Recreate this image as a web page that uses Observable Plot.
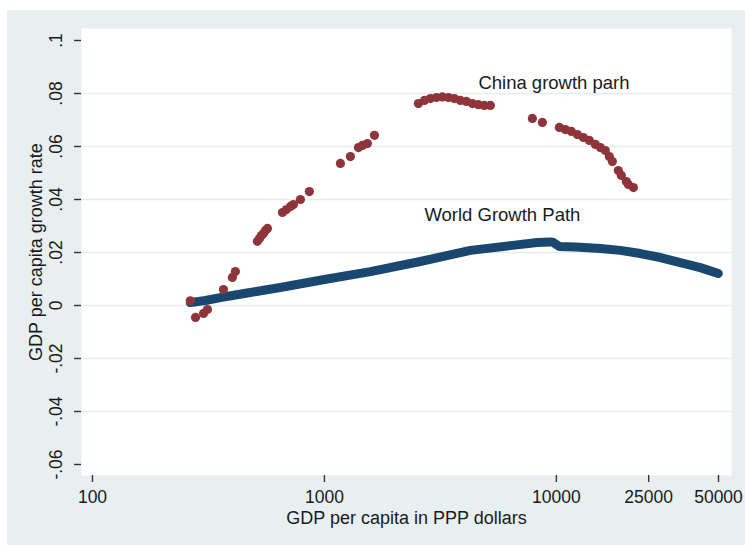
<!DOCTYPE html>
<html>
<head>
<meta charset="utf-8">
<script src="https://cdn.jsdelivr.net/npm/d3@7"></script>
<script src="https://cdn.jsdelivr.net/npm/@observablehq/plot@0.6"></script>
<style>
  html, body { margin: 0; padding: 0; background: #ffffff; }
  #wrap { position: relative; width: 745px; height: 545px; overflow: hidden; }
  #bg { position: absolute; left: 7px; top: 10px; right: 0; bottom: 0; background: #e8eff1; }
  #chart { position: absolute; left: 0; top: 0; }
</style>
</head>
<body>
<div id="wrap"><div id="bg"></div><div id="chart"></div></div>
<script>
// China growth path: GDP per capita (PPP $) and growth rate
const chinaGdp = [264, 278, 301, 313, 367, 401, 413,
  514, 525, 535, 546, 557, 568,
  659, 686, 714, 735, 788, 861,
  1172, 1294, 1402, 1458, 1532, 1643,
  2542, 2698, 2863, 3040, 3225, 3424, 3634, 3857, 4093, 4345, 4611, 4894, 5194,
  7880, 8703,
  10300, 10930, 11610, 12320, 13080, 13880, 14730, 15480, 16260, 16920, 17440, 18500, 19060, 20030, 20430, 21480];
const chinaGrowth = [0.0018, -0.0045, -0.003, -0.0015, 0.006, 0.0106, 0.0128,
  0.0242, 0.0253, 0.0264, 0.0272, 0.0283, 0.0291,
  0.0351, 0.0362, 0.0374, 0.0381, 0.040, 0.043,
  0.0536, 0.0562, 0.0596, 0.0604, 0.0611, 0.0642,
  0.0762, 0.0774, 0.0781, 0.0785, 0.0787, 0.0785, 0.0781, 0.0774, 0.077, 0.0762, 0.0758, 0.0755, 0.0755,
  0.0706, 0.0691,
  0.0672, 0.0664, 0.0657, 0.0645, 0.0634, 0.0623, 0.0608, 0.0596, 0.0585, 0.0562, 0.0543, 0.0509, 0.0491, 0.0468, 0.0457, 0.0445];

// World growth path
const worldGdp = [264, 307, 356, 479, 645, 1000, 1578, 2588, 4259, 6333, 8280, 9420, 9700, 10300, 12110, 15480, 18870, 23020, 28070, 34220, 41750, 49900];
const worldGrowth = [0.0011, 0.0019, 0.003, 0.0049, 0.0068, 0.0098, 0.0128, 0.0166, 0.0208, 0.0226, 0.0238, 0.024, 0.0238, 0.0223, 0.0221, 0.0215, 0.0208, 0.0196, 0.0181, 0.0162, 0.0143, 0.0121];

// Axis ticks
const xTicks = [100, 1000, 10000, 25000, 50000];
const xTickLabels = ["100", "1000", "10000", "25000", "50000"];
const yTicks = [-0.06, -0.04, -0.02, 0, 0.02, 0.04, 0.06, 0.08, 0.1];
const yTickLabels = ["-.06", "-.04", "-.02", "0", ".02", ".04", ".06", ".08", ".1"];
const yGrid = [-0.04, -0.02, 0, 0.02, 0.04, 0.06, 0.08];

// Annotations
const labelText = ["China growth parh", "World Growth Path"];
const labelGdp = [4611, 2698];
const labelGrowth = [0.0838, 0.034];

const xTitle = "GDP per capita in PPP dollars";
const yTitle = "GDP per capita growth rate";

const china = chinaGdp.map((g, i) => ({gdp: g, growth: chinaGrowth[i]}));
const world = worldGdp.map((g, i) => ({gdp: g, growth: worldGrowth[i]}));
const labels = labelText.map((t, i) => ({text: t, gdp: labelGdp[i], growth: labelGrowth[i]}));
const xTickData = xTicks.map((v, i) => ({v, label: xTickLabels[i]}));
const yTickData = yTicks.map((v, i) => ({v, label: yTickLabels[i]}));

const FONT = "'Liberation Sans', Arial, Helvetica, sans-serif";
const INK = "#1a1a1a";
const AXIS = "#333333";

const chart = Plot.plot({
  width: 745,
  height: 545,
  marginLeft: 81,
  marginRight: 14,
  marginTop: 28,
  marginBottom: 70,
  style: {background: "transparent", fontFamily: FONT, color: INK, overflow: "visible"},
  x: {type: "log", domain: [89.66, 56893]},
  y: {domain: [-0.06, 0.1], insetTop: 12, insetBottom: 11},
  marks: [
    Plot.frame({fill: "white", stroke: null}),
    Plot.ruleY(yGrid, {stroke: "#e4ecee", strokeWidth: 1.4}),
    Plot.axisX({ticks: xTicks, tickFormat: () => "", tickSize: 7, label: null, stroke: AXIS, strokeWidth: 1.4}),
    Plot.axisX({ticks: [], line: true, label: null, stroke: AXIS, strokeWidth: 1.6}),
    Plot.axisY({ticks: yTicks, tickFormat: () => "", tickSize: 7, label: null, stroke: AXIS, strokeWidth: 1.4}),
    Plot.axisY({ticks: [], line: true, label: null, stroke: AXIS, strokeWidth: 1.6}),
    Plot.text(xTickData, {x: "v", text: "label", frameAnchor: "bottom", dy: 22, textAnchor: "middle", lineAnchor: "middle", fontSize: 17.5, fill: INK}),
    Plot.text(yTickData, {y: "v", text: "label", frameAnchor: "left", dx: -25, rotate: -90, textAnchor: "middle", lineAnchor: "middle", fontSize: 17.5, fill: INK}),
    Plot.text([xTitle], {text: d => d, frameAnchor: "bottom", dy: 43, textAnchor: "middle", lineAnchor: "middle", fontSize: 18, fill: INK}),
    Plot.text([yTitle], {text: d => d, frameAnchor: "left", dx: -45, rotate: -90, textAnchor: "middle", lineAnchor: "middle", fontSize: 18, fill: INK}),
    Plot.line(world, {x: "gdp", y: "growth", stroke: "#1a476f", strokeWidth: 9, strokeLinecap: "round", strokeLinejoin: "round"}),
    Plot.dot(china, {x: "gdp", y: "growth", r: 4.6, fill: "#8f343a", stroke: null}),
    Plot.text(labels, {x: "gdp", y: "growth", text: "text", textAnchor: "start", lineAnchor: "middle", fontSize: 18.5, fill: INK})
  ]
});
document.getElementById("chart").appendChild(chart);
</script>
</body>
</html>
